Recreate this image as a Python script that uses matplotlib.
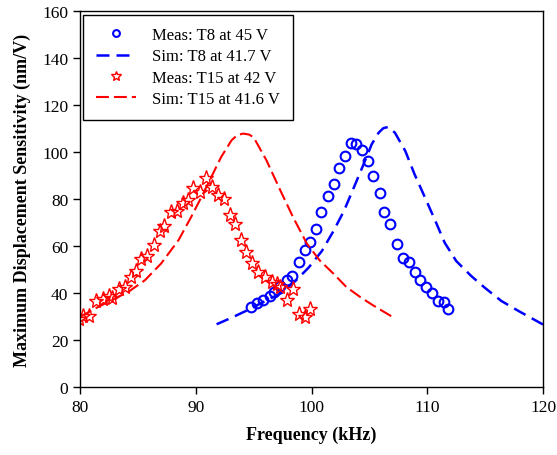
import matplotlib
matplotlib.use("Agg")
import matplotlib.pyplot as plt

plt.rcParams['font.family'] = ['Liberation Serif', 'DejaVu Serif']

# Measured T8 at 45 V
t8_meas_f = [94.8, 95.3, 95.8, 96.4, 96.8, 97.3, 97.9, 98.3, 98.9, 99.4, 99.9, 100.4,
             100.8, 101.4, 101.9, 102.4, 102.9, 103.4, 103.8, 104.4, 104.9, 105.3,
             105.9, 106.3, 106.8, 107.4, 107.9, 108.4, 108.9, 109.4, 109.9, 110.4,
             110.9, 111.4, 111.8]
t8_meas_v = [33.9, 35.7, 37.0, 38.9, 40.3, 42.8, 45.5, 47.4, 53.3, 58.4, 61.5, 67.2,
             74.3, 81.4, 86.4, 93.2, 98.4, 103.8, 103.4, 101.0, 96.3, 89.6,
             82.6, 74.6, 69.4, 60.9, 54.9, 53.3, 49.1, 45.7, 42.7, 40.0,
             36.7, 36.0, 33.2]

# Simulated T8 at 41.7 V
t8_sim_f = [91.8, 93.1, 94.6, 96.0, 97.45, 98.6, 99.75, 100.9, 101.9, 102.8, 103.65,
            104.5, 105.2, 105.8, 106.2, 106.6, 107.2, 108.1, 108.9, 109.8, 110.7,
            111.5, 112.5, 113.8, 114.95, 116.4, 117.9, 119.7, 120.0]
t8_sim_v = [26.7, 29.5, 33.0, 36.6, 40.1, 45.1, 50.8, 57.9, 66.4, 74.9, 84.8,
            94.8, 103.3, 108.2, 110.1, 110.6, 108.2, 100.4, 90.5, 80.6, 70.6,
            61.4, 53.6, 47.2, 42.3, 36.6, 32.3, 27.4, 26.6]

# Measured T15 at 42 V
t15_meas_f = [79.9, 80.3, 80.8, 81.4, 82.0, 82.5, 82.8, 83.4, 83.9, 84.4, 84.8, 85.3,
              85.8, 86.4, 86.9, 87.3, 87.9, 88.4, 88.9, 89.3, 89.8, 90.4, 90.9, 91.4,
              91.9, 92.4, 93.0, 93.4, 93.9, 94.3, 94.9, 95.4, 96.0, 96.6, 97.0, 97.3,
              97.9, 98.4, 98.9, 99.4, 99.9]
t15_meas_v = [28.9, 30.3, 30.1, 36.7, 37.4, 38.6, 37.7, 41.7, 42.4, 46.7, 49.5, 54.5,
              55.9, 60.4, 66.5, 68.6, 74.6, 75.0, 78.3, 79.7, 84.5, 82.8, 88.8, 84.9,
              81.7, 80.0, 73.2, 69.4, 62.6, 57.3, 52.8, 48.8, 46.7, 44.5, 43.8, 42.4,
              37.2, 41.7, 31.1, 29.6, 33.2]

# Simulated T15 at 41.6 V
t15_sim_f = [80.0, 81.27, 82.7, 84.15, 85.6, 87.0, 88.5, 89.6, 90.5, 91.35, 92.2,
             93.1, 93.6, 94.1, 94.6, 95.0, 96.1, 97.3, 98.4, 99.6, 100.7, 101.9,
             103.0, 104.2, 105.3, 106.9]
t15_sim_v = [29.8, 33.3, 36.9, 40.4, 45.4, 52.5, 62.4, 72.3, 80.9, 89.4, 97.9,
             105.0, 107.2, 107.8, 107.4, 106.2, 96.5, 83.7, 72.3, 61.0, 53.9, 48.2,
             42.6, 38.3, 34.8, 30.1]

fig = plt.figure(figsize=(5.57, 4.56), dpi=100)
ax = fig.add_axes([0.1436, 0.149, 0.8314, 0.825])

ax.plot(t8_meas_f, t8_meas_v, linestyle='none', marker='o', markersize=7,
        markerfacecolor='none', markeredgecolor='#0000ff', markeredgewidth=1.5,
        label='Meas: T8 at 45 V')
ax.plot(t8_sim_f, t8_sim_v, color='#0000ff', linewidth=1.8, dashes=(5.2, 2.8),
        label='Sim: T8 at 41.7 V')
ax.plot(t15_meas_f, t15_meas_v, linestyle='none', marker='*', markersize=11,
        markerfacecolor='none', markeredgecolor='#ff0000', markeredgewidth=1.0,
        label='Meas: T15 at 42 V')
ax.plot(t15_sim_f, t15_sim_v, color='#ff0000', linewidth=1.5, dashes=(6.2, 2.4),
        label='Sim: T15 at 41.6 V')

ax.set_xlim(80, 120)
ax.set_ylim(0, 160)
ax.set_xticks([80, 90, 100, 110, 120])
ax.set_yticks(range(0, 161, 20))
ax.tick_params(direction='out', length=5, width=1, labelsize=12.5, colors='black')
for s in ax.spines.values():
    s.set_linewidth(1.0)
    s.set_color('black')

ax.set_xlabel('Frequency (kHz)', fontsize=13, fontweight='bold', labelpad=8)
ax.set_ylabel('Maximum Displacement Sensitivity (nm/V)', fontsize=13,
              fontweight='bold', labelpad=8)

leg = ax.legend(loc='upper left', bbox_to_anchor=(0.007, 0.99), fontsize=12,
                frameon=True, fancybox=False, edgecolor='black', framealpha=1,
                handlelength=2.4, handletextpad=1.0, borderpad=0.75, labelspacing=0.32,
                borderaxespad=0, markerscale=0.7)
leg.get_frame().set_linewidth(1.0)

fig.savefig('out.png', dpi=100)
